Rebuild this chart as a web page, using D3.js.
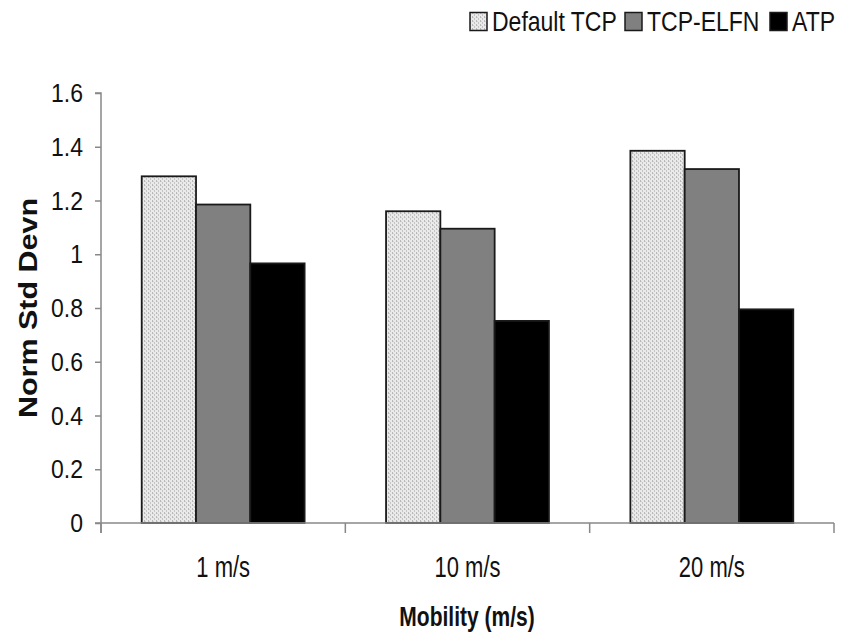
<!DOCTYPE html>
<html><head><meta charset="utf-8">
<script src="https://cdn.jsdelivr.net/npm/d3@7"></script>
<style>body{margin:0;background:#fff;} text{font-family:"Liberation Sans",Arial,sans-serif;}</style>
</head><body>
<svg id="c" width="847" height="636"></svg>
<script>
const categories = ["1 m/s", "10 m/s", "20 m/s"];
const seriesNames = ["Default TCP", "TCP-ELFN", "ATP"];
const defaultTCP = [1.29, 1.16, 1.385];
const tcpElfn = [1.185, 1.095, 1.317];
const atp = [0.966, 0.752, 0.795];
const yTicks = [0, 0.2, 0.4, 0.6, 0.8, 1, 1.2, 1.4, 1.6];
const seriesValues = [defaultTCP, tcpElfn, atp];
const fills = ["url(#dots)", "#808080", "#000000"];

const svg = d3.select("#c");
const defs = svg.append("defs");
const pat = defs.append("pattern").attr("id","dots").attr("patternUnits","userSpaceOnUse").attr("width",4).attr("height",4);
pat.append("rect").attr("width",4).attr("height",4).attr("fill","#eaeaea");
pat.append("rect").attr("x",0).attr("y",0).attr("width",1).attr("height",2).attr("fill","#b8b8b8");
pat.append("rect").attr("x",2).attr("y",2).attr("width",1).attr("height",2).attr("fill","#c4c4c4");
pat.append("rect").attr("x",1).attr("y",1).attr("width",1).attr("height",1).attr("fill","#d4d4d4");

const mLeft = 101, mRight = 834, mTop = 93, mBottom = 523;
const x0 = d3.scaleBand().domain(categories).range([mLeft, mRight]).padding(0);
const x1 = d3.scaleBand().domain(seriesNames).range([0, x0.bandwidth()]).paddingInner(0).paddingOuter(0.75);
const y = d3.scaleLinear().domain([0, 1.6]).range([mBottom, mTop]);

// bars
categories.forEach((c, ci) => {
  seriesNames.forEach((s, si) => {
    const v = seriesValues[si][ci];
    svg.append("rect")
      .attr("x", x0(c) + x1(s))
      .attr("y", y(v))
      .attr("width", x1.bandwidth())
      .attr("height", y(0) - y(v))
      .attr("fill", fills[si])
      .attr("stroke", "#1a1a1a").attr("stroke-width", 1.8);
  });
});

// y axis
const yAxis = d3.axisLeft(y).tickValues(yTicks).tickSize(6).tickPadding(12).tickFormat(d => d3.format("")(d));
const gy = svg.append("g").attr("transform", `translate(${mLeft},0)`).call(yAxis);
gy.select(".domain").attr("stroke", "#888").attr("stroke-width", 1.5).attr("d", `M-6,${mTop}H0V${mBottom+10}`);
gy.selectAll(".tick line").attr("stroke", "#888").attr("stroke-width", 1.5);
gy.selectAll(".tick text").attr("font-size", 23).attr("fill", "#111")
  .attr("font-family","Liberation Sans, Arial, sans-serif").attr("dy","0.34em").attr("transform","scale(1,1.1)");

// x axis
const gx = svg.append("g").attr("transform", `translate(0,${mBottom})`);
gx.append("line").attr("x1", mLeft - 6).attr("x2", mRight).attr("y1", 0).attr("y2", 0).attr("stroke", "#888").attr("stroke-width", 1.5);
const bounds = categories.map(c => x0(c)).concat([mRight]);
bounds.forEach(b => gx.append("line").attr("x1", b).attr("x2", b).attr("y1", 0).attr("y2", 10).attr("stroke", "#888").attr("stroke-width", 1.5));
categories.forEach(c => {
  gx.append("text").attr("transform", `translate(${x0(c) + x0.bandwidth()/2},${54}) scale(1,1.3)`)
    .attr("text-anchor", "middle").attr("font-size", 22).attr("fill", "#111").text(c);
});

// axis titles
svg.append("text").attr("transform", "translate(467,626) scale(1,1.35)")
  .attr("text-anchor","middle").attr("font-size",21).attr("font-weight","bold").attr("fill","#111").text("Mobility (m/s)");
svg.append("text").attr("transform", "translate(37,308) rotate(-90) scale(1.22,1)")
  .attr("text-anchor","middle").attr("font-size",25).attr("font-weight","bold").attr("fill","#111").text("Norm Std Devn");

// legend
const legX = [470, 625, 770];
seriesNames.forEach((s, i) => {
  svg.append("rect").attr("x", legX[i]).attr("y", 12.5).attr("width", 17).attr("height", 18)
    .attr("fill", fills[i]).attr("stroke", "#1a1a1a").attr("stroke-width", 1.5);
  svg.append("text").attr("transform", `translate(${legX[i] + 22},31) scale(1,1.22)`)
    .attr("font-size", 23).attr("fill", "#111").text(s);
});
</script>
</body></html>
